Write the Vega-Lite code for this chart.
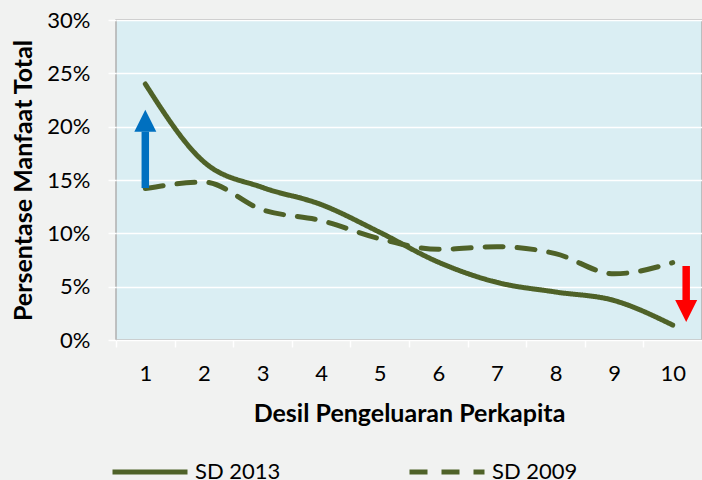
{
  "$schema": "https://vega.github.io/schema/vega-lite/v6.json",
  "width": 586,
  "height": 320,
  "autosize": {"type": "none"},
  "padding": {"left": 116, "top": 20, "right": 0, "bottom": 140},
  "background": "#f1f2f1",
  "config": {
    "view": {"fill": "#daeef3", "stroke": "#b0b0b0", "strokeWidth": 1.5},
    "font": "Lato"
  },
  "datasets": {
    "lines": [
      {"desil": 1, "series": "SD 2013", "value": 0.240},
      {"desil": 2, "series": "SD 2013", "value": 0.167},
      {"desil": 3, "series": "SD 2013", "value": 0.143},
      {"desil": 4, "series": "SD 2013", "value": 0.127},
      {"desil": 5, "series": "SD 2013", "value": 0.101},
      {"desil": 6, "series": "SD 2013", "value": 0.073},
      {"desil": 7, "series": "SD 2013", "value": 0.054},
      {"desil": 8, "series": "SD 2013", "value": 0.045},
      {"desil": 9, "series": "SD 2013", "value": 0.037},
      {"desil": 10, "series": "SD 2013", "value": 0.014},
      {"desil": 1, "series": "SD 2009", "value": 0.142},
      {"desil": 2, "series": "SD 2009", "value": 0.148},
      {"desil": 3, "series": "SD 2009", "value": 0.122},
      {"desil": 4, "series": "SD 2009", "value": 0.112},
      {"desil": 5, "series": "SD 2009", "value": 0.095},
      {"desil": 6, "series": "SD 2009", "value": 0.085},
      {"desil": 7, "series": "SD 2009", "value": 0.0875},
      {"desil": 8, "series": "SD 2009", "value": 0.081},
      {"desil": 9, "series": "SD 2009", "value": 0.062},
      {"desil": 10, "series": "SD 2009", "value": 0.0725}
    ],
    "arrows": [
      {"desil": 1, "dir": "up", "from": 0.1425, "to": 0.1953, "head": 0.2055},
      {"desil": 10.23, "dir": "down", "from": 0.0694, "to": 0.0356, "head": 0.0272}
    ]
  },
  "layer": [
    {
      "data": {"name": "lines"},
      "mark": {"type": "line", "color": "#4f6228", "strokeWidth": 5, "strokeCap": "round", "interpolate": "monotone"},
      "encoding": {
        "x": {
          "field": "desil", "type": "quantitative",
          "scale": {"domain": [0.5, 10.5], "nice": false, "zero": false},
          "axis": {
            "values": [1, 2, 3, 4, 5, 6, 7, 8, 9, 10],
            "format": "d",
            "labelOverlap": false,
            "tickOffset": -29.3,
            "labelOffset": 29.3,
            "tickColor": "#ffffff", "tickSize": 7, "tickWidth": 1.5,
            "domain": false, "grid": false,
            "labelFontSize": 22, "labelColor": "#000000", "labelPadding": 16, "labelFlush": false,
            "title": "Desil Pengeluaran Perkapita",
            "titleFontSize": 25, "titleFontWeight": "bold", "titleColor": "#000000", "titlePadding": 17
          }
        },
        "y": {
          "field": "value", "type": "quantitative",
          "scale": {"domain": [0, 0.3], "nice": false},
          "axis": {
            "values": [0, 0.05, 0.1, 0.15, 0.2, 0.25, 0.3],
            "format": ".0%",
            "tickColor": "#ffffff", "tickSize": 8, "tickWidth": 1.5,
            "domain": false, "grid": true, "gridColor": "#ffffff", "gridWidth": 1.5, "gridOpacity": 1,
            "labelFontSize": 22, "labelColor": "#000000", "labelPadding": 18,
            "title": "Persentase Manfaat Total",
            "titleFontSize": 25, "titleFontWeight": "bold", "titleColor": "#000000", "titlePadding": 10
          }
        },
        "strokeDash": {
          "field": "series", "type": "nominal",
          "scale": {"domain": ["SD 2013", "SD 2009"], "range": [[1, 0], [18, 14]]},
          "legend": {
            "title": null, "orient": "none", "direction": "horizontal",
            "legendX": -6, "legendY": 412,
            "symbolType": "stroke", "symbolSize": 5625, "symbolStrokeWidth": 5,
            "symbolStrokeColor": "#4f6228",
            "labelFontSize": 22, "labelColor": "#000000", "labelOffset": 5,
            "columnPadding": 118
          }
        }
      }
    },
    {
      "data": {"name": "arrows"},
      "mark": {"type": "rule", "strokeWidth": 7.5},
      "encoding": {
        "x": {"field": "desil", "type": "quantitative"},
        "y": {"field": "from", "type": "quantitative"},
        "y2": {"field": "to"},
        "color": {
          "field": "dir", "type": "nominal",
          "scale": {"domain": ["up", "down"], "range": ["#0070c0", "#ff0000"]},
          "legend": null
        }
      }
    },
    {
      "data": {"name": "arrows"},
      "mark": {"type": "point", "filled": true, "opacity": 1, "size": 484, "strokeWidth": 0},
      "encoding": {
        "x": {"field": "desil", "type": "quantitative"},
        "y": {"field": "head", "type": "quantitative"},
        "shape": {
          "field": "dir", "type": "nominal",
          "scale": {"domain": ["up", "down"], "range": ["M-1,1L1,1L0,-1Z", "M-1,-1L1,-1L0,1Z"]},
          "legend": null
        },
        "color": {
          "field": "dir", "type": "nominal",
          "scale": {"domain": ["up", "down"], "range": ["#0070c0", "#ff0000"]},
          "legend": null
        }
      }
    }
  ]
}
